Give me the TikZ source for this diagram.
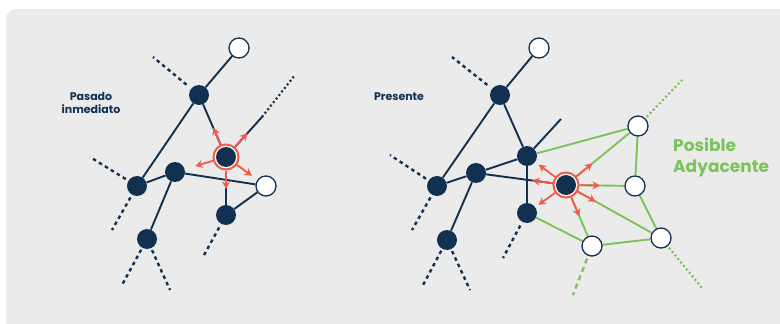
\documentclass[tikz,border=0pt]{standalone}
\usepackage{fontspec}
\setmainfont{Poppins}
\usetikzlibrary{arrows.meta,calc}
\definecolor{navy}{HTML}{12304F}
\definecolor{coral}{HTML}{F05A47}
\definecolor{leaf}{HTML}{7CC35B}
\definecolor{panelgrey}{HTML}{EBEBEB}
\pgfdeclarelayer{panel}
\pgfdeclarelayer{links}
\pgfsetlayers{panel,links,main}
\tikzset{
  dk/.style={circle, fill=navy, minimum size=20pt, inner sep=0pt},
  wt/.style={circle, fill=white, draw=navy, line width=1.3pt, minimum size=20pt, inner sep=0pt},
  ctr/.style={circle, fill=white, draw=coral, line width=2pt, minimum size=25pt, inner sep=0pt,
    path picture={\fill[navy] (path picture bounding box.center) circle (10pt);}},
  link/.style={draw=navy, line width=1.9pt},
  glink/.style={draw=leaf, line width=1.9pt},
  navydash/.style={draw=navy, line width=2.4pt, dash pattern=on 3.5pt off 3.5pt},
  navydot/.style={draw=navy, line width=2.2pt, dash pattern=on 2pt off 2.5pt},
  leafdot/.style={draw=leaf, line width=2.2pt, dash pattern=on 2pt off 2.5pt},
  leafdash/.style={draw=leaf, line width=2.4pt, dash pattern=on 5pt off 4pt},
  push/.style={draw=coral, line width=1.8pt,
    -{Stealth[length=7.5pt, width=8pt, inset=2.5pt]}},
  lbl/.style={text=navy, font=\fontsize{11}{13.5}\selectfont\bfseries, inner sep=0pt},
  glbl/.style={text=leaf, font=\fontsize{17}{21}\selectfont\bfseries, inner sep=0pt, align=left}
}
\begin{document}
\begin{tikzpicture}[x=1pt, y=-1pt]
\useasboundingbox (0,0) rectangle (780,324);
\begin{pgfonlayer}{panel}
  \fill[panelgrey, rounded corners=10pt] (6,9) rectangle (792,336);
\end{pgfonlayer}

% ---------- left network ----------
\node[wt] (lW1) at (239,48) {};
\node[dk] (lA) at (199,95) {};
\node[ctr] (lc) at (226,157) {};
\node[dk] (lB) at (175,172) {};
\node[dk] (lC) at (137,186) {};
\node[wt] (lW2) at (266,186) {};
\node[dk] (lD) at (226,215) {};
\node[dk] (lE) at (147,239) {};
\coordinate (lU) at (262,117);
\coordinate (lUe) at (295,75);
\coordinate (lAo) at (153,57);
\coordinate (lCa) at (90,157);
\coordinate (lCb) at (112,230);
\coordinate (lEa) at (122,285);
\coordinate (lEb) at (170,290);
\coordinate (lDa) at (203,257);

\begin{pgfonlayer}{links}
  \draw[link] (lW1) -- (lA);
  \draw[link] (lA) -- (lC);
  \draw[link] (lA) -- (lc);
  \draw[link] (lC) -- (lB);
  \draw[link] (lB) -- (lE);
  \draw[link] (lB) -- (lW2);
  \draw[link] (lD) -- (lW2);
  \draw[link] (lD) -- (lc);
  \draw[link] (lc) -- (lU);
  \draw[navydot] (lU) -- (lUe);
  \draw[navydash, shorten <=6pt] (lA) -- (lAo);
  \draw[navydash, shorten <=3pt] (lC) -- (lCa);
  \draw[navydash, shorten <=3pt] (lC) -- (lCb);
  \draw[navydash, shorten <=2pt] (lE) -- (lEa);
  \draw[navydash, shorten <=2pt] (lE) -- (lEb);
  \draw[navydash, shorten <=4pt] (lD) -- (lDa);
\end{pgfonlayer}

\draw[push] (lc) -- ($(lc)!32pt!(lA)$);
\draw[push] (lc) -- ($(lc)!32pt!(lU)$);
\draw[push] (lc) -- ($(lc)!32pt!(lB)$);
\draw[push] (lc) -- ($(lc)!32pt!(lW2)$);
\draw[push] (lc) -- ($(lc)!32pt!(lD)$);

\node[lbl, align=center, anchor=north] (past) at (91,92) {Pasado\\inmediato};

% ---------- right network ----------
\node[wt] (rW1) at (539,48) {};
\node[dk] (rA) at (500,95) {};
\node[dk] (rF) at (527,156) {};
\node[dk] (rB) at (476,173) {};
\node[dk] (rC) at (437,186) {};
\node[ctr] (rc) at (566,185) {};
\node[dk] (rD) at (527,213) {};
\node[dk] (rE) at (447,240) {};
\node[wt] (rG1) at (638,126) {};
\node[wt] (rG2) at (635,186) {};
\node[wt] (rG3) at (592,246) {};
\node[wt] (rG4) at (661,238) {};
\coordinate (rU) at (561,119);
\coordinate (rAo) at (452,57);
\coordinate (rCa) at (390,155);
\coordinate (rCb) at (412,230);
\coordinate (rEa) at (422,287);
\coordinate (rEb) at (470,290);
\coordinate (rDa) at (503,258);
\coordinate (rG1o) at (682,80);
\coordinate (rG3o) at (573,295);
\coordinate (rG4o) at (702,288);

\begin{pgfonlayer}{links}
  \draw[link] (rW1) -- (rA);
  \draw[link] (rA) -- (rC);
  \draw[link] (rA) -- (rF);
  \draw[link] (rF) -- (rU);
  \draw[link] (rC) -- (rB);
  \draw[link] (rB) -- (rF);
  \draw[link] (rB) -- (rc);
  \draw[link] (rB) -- (rE);
  \draw[link] (rF) -- (rD);
  \draw[glink] (rF) -- (rG1);
  \draw[glink] (rG1) -- (rG2);
  \draw[glink] (rG2) -- (rG4);
  \draw[glink] (rG3) -- (rG4);
  \draw[glink] (rD) -- (rG3);
  \draw[glink] (rc) -- (rG1);
  \draw[glink] (rc) -- (rG2);
  \draw[glink] (rc) -- (rG3);
  \draw[glink] (rc) -- (rG4);
  \draw[navydash, shorten <=6pt] (rA) -- (rAo);
  \draw[navydash, shorten <=3pt] (rC) -- (rCa);
  \draw[navydash, shorten <=3pt] (rC) -- (rCb);
  \draw[navydash, shorten <=2pt] (rE) -- (rEa);
  \draw[navydash, shorten <=2pt] (rE) -- (rEb);
  \draw[navydash, shorten <=4pt] (rD) -- (rDa);
  \draw[leafdot, shorten <=2pt] (rG1) -- (rG1o);
  \draw[leafdash, shorten <=3pt] (rG3) -- (rG3o);
  \draw[leafdot, shorten <=2pt] (rG4) -- (rG4o);
\end{pgfonlayer}

\draw[push] (rc) -- ($(rc)!34pt!(rF)$);
\draw[push] (rc) -- ($(rc)!34pt!(rB)$);
\draw[push] (rc) -- ($(rc)!34pt!(rD)$);
\draw[push] (rc) -- ($(rc)!34pt!(rG1)$);
\draw[push] (rc) -- ($(rc)!34pt!(rG2)$);
\draw[push] (rc) -- ($(rc)!34pt!(rG3)$);
\draw[push] (rc) -- ($(rc)!34pt!(rG4)$);

\node[lbl, anchor=base] (now) at (399,100) {Presente};
\node[glbl, anchor=north west] (adj) at (673,137.5) {Posible\\Adyacente};
\end{tikzpicture}
\end{document}
